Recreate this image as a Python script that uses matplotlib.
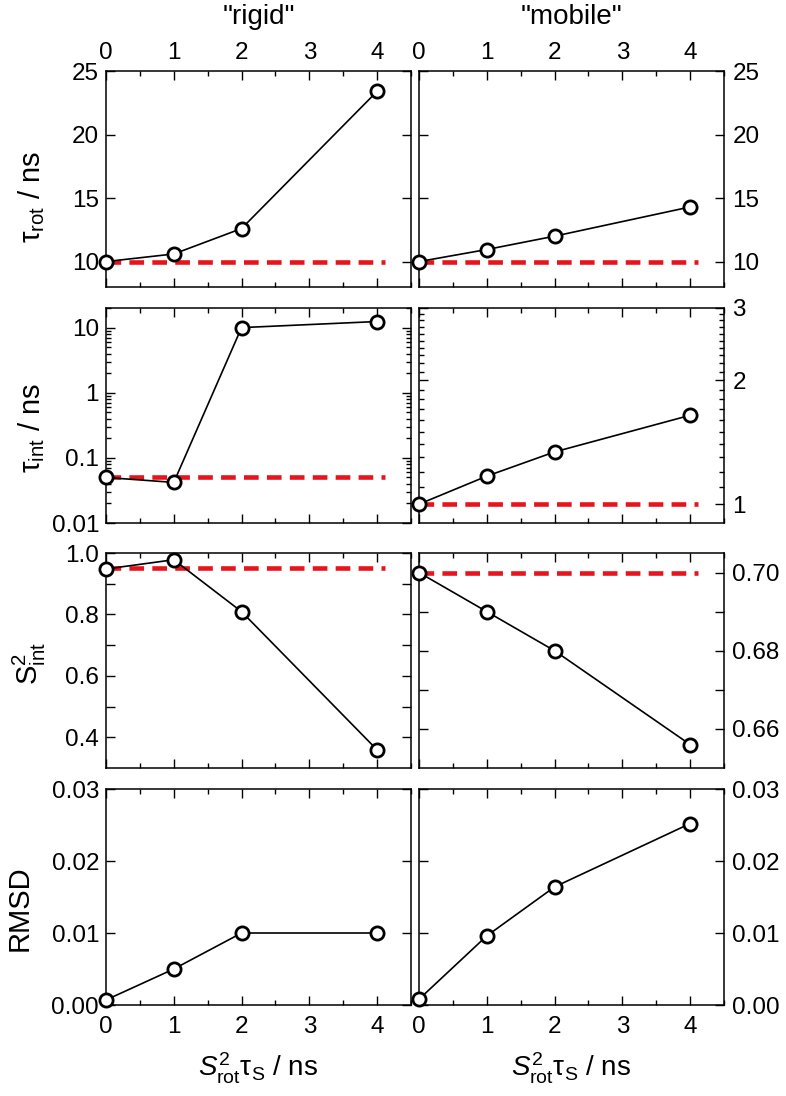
import matplotlib
matplotlib.use("Agg")
import matplotlib.pyplot as plt
from matplotlib.ticker import MultipleLocator, FixedLocator, FixedFormatter, NullFormatter, LogLocator
import numpy as np

plt.rcParams['font.family'] = ['Liberation Sans', 'DejaVu Sans']
plt.rcParams['mathtext.fontset'] = 'custom'
plt.rcParams['mathtext.rm'] = 'Liberation Sans'
plt.rcParams['mathtext.it'] = 'Liberation Sans:italic'
plt.rcParams['mathtext.sf'] = 'Liberation Sans'

# ---------------- data ----------------
x_vals = [0, 1, 2, 4]
tau_rot_rigid = [10.0, 10.6, 12.6, 23.4]
tau_rot_mobile = [10.0, 10.95, 12.0, 14.3]
tau_int_rigid = [0.05, 0.042, 10.0, 12.4]
tau_int_mobile = [1.0, 1.17, 1.34, 1.645]
s2_rigid = [0.948, 0.978, 0.809, 0.359]
s2_mobile = [0.700, 0.690, 0.680, 0.656]
rmsd_rigid = [0.0007, 0.005, 0.010, 0.010]
rmsd_mobile = [0.0008, 0.0096, 0.0164, 0.0252]

ref_x = [0, 4.12]
ref_tau_rot = [10.0, 10.0]
ref_tau_int = [0.05, 1.0]
ref_s2 = [0.95, 0.70]

col_titles = ['"rigid"', '"mobile"']
x_ticks = [0, 1, 2, 3, 4]
x_label = '$S^{2}_{\\rm rot}$\u03c4$_{\\rm S}$ / ns'
y_labels = ['\u03c4$_{\\rm rot}$ / ns', '\u03c4$_{\\rm int}$ / ns', 'S$^{2}_{\\rm int}$', 'RMSD']

W, H = 786, 1096
fig = plt.figure(figsize=(W / 100, H / 100), dpi=100)

col_px = [(106, 411), (419, 724)]
row_px = [(71, 287), (308, 523), (553, 768), (789, 1005)]

TICK_FS = 17.5
RED = '#e8141c'

axes = [[None, None] for _ in range(4)]
for r, (t, b) in enumerate(row_px):
    for c, (l, rr) in enumerate(col_px):
        ax = fig.add_axes([l / W, 1 - b / H, (rr - l) / W, (b - t) / H])
        axes[r][c] = ax
        for sp in ax.spines.values():
            sp.set_linewidth(1.1)
        ax.set_xlim(0, 4.5)
        ax.xaxis.set_major_locator(FixedLocator(x_ticks))
        ax.xaxis.set_minor_locator(MultipleLocator(0.5))
        ax.tick_params(which='both', direction='in', top=True, bottom=True, left=True, right=True,
                       labelsize=TICK_FS, width=1.0)
        ax.tick_params(which='major', length=6.5)
        ax.tick_params(which='minor', length=3.5)
        ax.tick_params(axis='x', labelbottom=(r == 3), labeltop=(r == 0))
        if r == 0:
            ax.tick_params(axis='x', pad=5)
        else:
            ax.tick_params(axis='x', pad=8)
        if c == 0:
            ax.tick_params(axis='y', labelleft=True, labelright=False, pad=5)
        else:
            ax.tick_params(axis='y', labelleft=False, labelright=True, pad=6)

series = [
    (tau_rot_rigid, tau_rot_mobile, ref_tau_rot),
    (tau_int_rigid, tau_int_mobile, ref_tau_int),
    (s2_rigid, s2_mobile, ref_s2),
    (rmsd_rigid, rmsd_mobile, None),
]

for r, (ys_r, ys_m, ref) in enumerate(series):
    for c, ys in enumerate([ys_r, ys_m]):
        ax = axes[r][c]
        if ref is not None:
            ax.plot(ref_x, [ref[c], ref[c]], color=RED, lw=3.3, dashes=(3.2, 1.8), zorder=2)
        ax.plot(x_vals, ys, color='black', lw=1.2, marker='o', ms=9.5, mfc='white',
                mec='black', mew=2.0, clip_on=False, zorder=3)

# Row 1: tau_rot
for ax in axes[0]:
    ax.set_ylim(8, 25)
    ax.yaxis.set_major_locator(FixedLocator([10, 15, 20, 25]))
    ax.yaxis.set_minor_locator(FixedLocator([]))

# Row 2: tau_int (log)
ax = axes[1][0]
ax.set_yscale('log')
ax.set_ylim(0.01, 20)
ax.yaxis.set_major_locator(FixedLocator([0.01, 0.1, 1, 10]))
ax.yaxis.set_major_formatter(FixedFormatter(['0.01', '0.1', '1', '10']))
ax.yaxis.set_minor_locator(LogLocator(base=10, subs=np.arange(2, 10)))
ax.yaxis.set_minor_formatter(NullFormatter())
ax.set_xlim(0, 4.5)

ax = axes[1][1]
ax.set_yscale('log')
ax.set_ylim(0.9, 3)
ax.yaxis.set_major_locator(FixedLocator([1, 2, 3]))
ax.yaxis.set_major_formatter(FixedFormatter(['1', '2', '3']))
ax.yaxis.set_minor_locator(FixedLocator([1.1, 1.2, 1.3, 1.4, 1.5, 1.6, 1.7, 1.8, 1.9,
                                         2.1, 2.2, 2.3, 2.4, 2.5, 2.6, 2.7, 2.8, 2.9]))
ax.yaxis.set_minor_formatter(NullFormatter())
ax.set_xlim(0, 4.5)

# Row 3: S2_int
ax = axes[2][0]
ax.set_ylim(0.3, 1.0)
ax.yaxis.set_major_locator(FixedLocator([0.4, 0.6, 0.8, 1.0]))
ax.yaxis.set_major_formatter(FixedFormatter(['0.4', '0.6', '0.8', '1.0']))
ax.yaxis.set_minor_locator(FixedLocator([0.5, 0.7, 0.9]))
ax.tick_params(axis='y', which='minor', length=6.5)

ax = axes[2][1]
ax.set_ylim(0.65, 0.705)
ax.yaxis.set_major_locator(FixedLocator([0.66, 0.68, 0.70]))
ax.yaxis.set_major_formatter(FixedFormatter(['0.66', '0.68', '0.70']))
ax.yaxis.set_minor_locator(FixedLocator([0.67, 0.69]))
ax.tick_params(axis='y', which='minor', length=6.5)

# Row 4: RMSD
for ax in axes[3]:
    ax.set_ylim(0, 0.03)
    ax.yaxis.set_major_locator(FixedLocator([0.0, 0.01, 0.02, 0.03]))
    ax.yaxis.set_major_formatter(FixedFormatter(['0.00', '0.01', '0.02', '0.03']))
    ax.yaxis.set_minor_locator(FixedLocator([]))

# Column titles and x labels
for c, (l, rr) in enumerate(col_px):
    fig.text(((l + rr) / 2) / W, 1 - 17 / H, col_titles[c], ha='center', va='center', fontsize=20)
    fig.text(((l + rr) / 2) / W, 1 - 1068 / H, x_label, ha='center', va='center', fontsize=20)

# Y labels
ylab_pos = [(32, 197), (32, 428), (29, 663), (20, 908)]
for (xp, yp), lab in zip(ylab_pos, y_labels):
    fig.text(xp / W, 1 - yp / H, lab, rotation=90, ha='center', va='center', fontsize=21)

fig.savefig('out.png', dpi=100)
